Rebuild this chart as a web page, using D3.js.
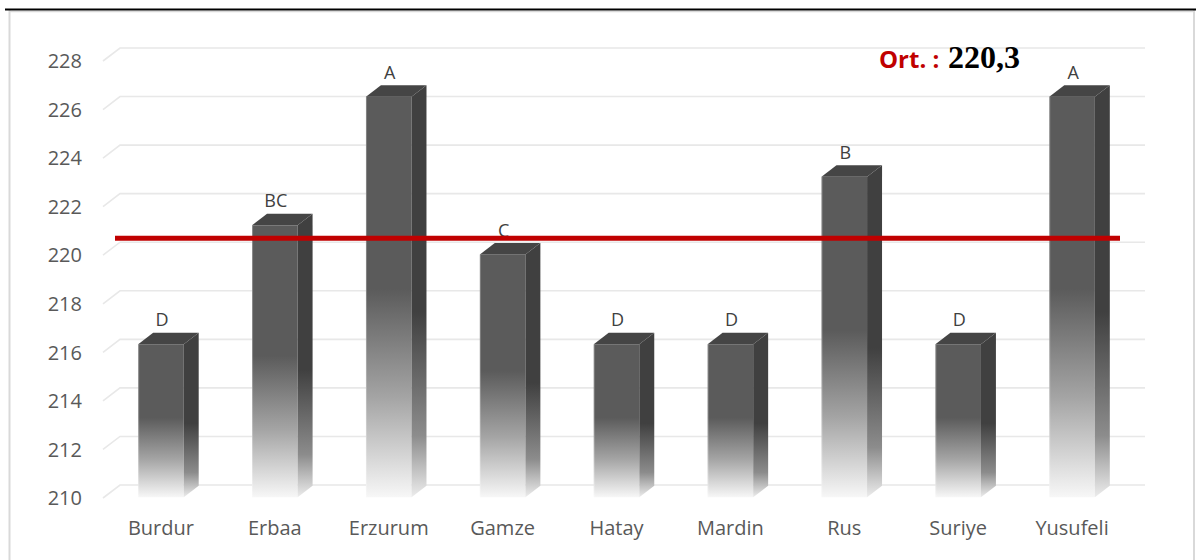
<!DOCTYPE html>
<html>
<head>
<meta charset="utf-8">
<script src="https://cdn.jsdelivr.net/npm/d3@7"></script>
<style>
  html, body { margin: 0; padding: 0; background: #ffffff; }
  svg { display: block; }
</style>
</head>
<body>
<svg id="chart" width="1198" height="560"></svg>
<script>
// Mean values per location, with significance groups
const categories = ["Burdur", "Erbaa", "Erzurum", "Gamze", "Hatay", "Mardin", "Rus", "Suriye", "Yusufeli"];
const values = [216.3, 221.2, 226.5, 220.0, 216.3, 216.3, 223.2, 216.3, 226.5];
const groups = ["D", "BC", "A", "C", "D", "D", "B", "D", "A"];
const yTicks = [210, 212, 214, 216, 218, 220, 222, 224, 226, 228];
const meanValue = 220.3;
const meanLabel = "220,3";

const svg = d3.select("#chart");
const W = 1198, H = 560;

// Frame
svg.append("line").attr("x1", 9.5).attr("x2", 9.5).attr("y1", 10).attr("y2", H)
  .attr("stroke", "#d9d9d9").attr("stroke-width", 2);
svg.append("line").attr("x1", 1194).attr("x2", 1194).attr("y1", 10).attr("y2", H)
  .attr("stroke", "#d9d9d9").attr("stroke-width", 2);
svg.append("line").attr("x1", 9).attr("x2", 1194).attr("y1", 11.5).attr("y2", 11.5)
  .attr("stroke", "#d9d9d9").attr("stroke-width", 1.5);
svg.append("line").attr("x1", 5).attr("x2", 1196).attr("y1", 9.5).attr("y2", 9.5)
  .attr("stroke", "#000000").attr("stroke-width", 2.2);

// Front plane scales and depth projection
const x = d3.scaleBand().domain(categories).range([103, 1128]).paddingInner(0.6).paddingOuter(0.3);
const y = d3.scaleLinear().domain([210, 228]).range([498, 61]);
const depthX = d3.scaleLinear().domain([0, 1]).range([0, 17]);
const depthY = d3.scaleLinear().domain([0, 1]).range([0, -13]);
const backRight = 1145;

const defs = svg.append("defs");
const gFront = defs.append("linearGradient").attr("id", "gFront")
  .attr("x1", 0).attr("y1", 0).attr("x2", 0).attr("y2", 1);
[[0, "#5b5b5b"], [0.48, "#5b5b5b"], [0.75, "#a4a4a4"], [1, "#f7f7f7"]].forEach(([o, c]) =>
  gFront.append("stop").attr("offset", o).attr("stop-color", c));
const gSide = defs.append("linearGradient").attr("id", "gSide")
  .attr("x1", 0).attr("y1", 0).attr("x2", 0).attr("y2", 1);
[[0, "#404040"], [0.55, "#404040"], [0.85, "#8c8c8c"], [1, "#ececec"]].forEach(([o, c]) =>
  gSide.append("stop").attr("offset", o).attr("stop-color", c));

// Gridlines: side wall diagonal then back wall
svg.append("g").selectAll("path").data(yTicks).join("path")
  .attr("d", t => `M${103},${y(t)} L${103 + depthX(1)},${y(t) + depthY(1)} L${backRight},${y(t) + depthY(1)}`)
  .attr("fill", "none").attr("stroke", "#e8e8e8").attr("stroke-width", 1.6);

// Tick labels
svg.append("g").selectAll("text").data(yTicks).join("text")
  .attr("x", 82).attr("y", t => y(t)).attr("dy", "0.36em")
  .attr("text-anchor", "end")
  .attr("font-family", "'Open Sans', sans-serif").attr("font-size", 20)
  .attr("fill", "#595959").text(t => t);

// Bars (front face, side face, top face)
const d0 = 0.06, d1 = 0.94;
const bars = svg.append("g").selectAll("g").data(categories.map((c, i) => ({ c, v: values[i], g: groups[i] })))
  .join("g");
bars.each(function (d) {
  const g = d3.select(this);
  const x0 = x(d.c) + depthX(d0), x1 = x0 + x.bandwidth();
  const yT = y(d.v) + depthY(d0), yB = y(210) + depthY(d0);
  const ddx = depthX(d1) - depthX(d0), ddy = depthY(d1) - depthY(d0);
  g.append("rect").attr("x", x0).attr("y", yT).attr("width", x1 - x0).attr("height", yB - yT)
    .attr("fill", "url(#gFront)");
  g.append("line").attr("x1", x0 + 0.5).attr("x2", x0 + 0.5).attr("y1", yT).attr("y2", yB)
    .attr("stroke", "#ffffff").attr("stroke-opacity", 0.25).attr("stroke-width", 1);
  g.append("path")
    .attr("d", `M${x1},${yT} L${x1 + ddx},${yT + ddy} L${x1 + ddx},${yB + ddy} L${x1},${yB} Z`)
    .attr("fill", "url(#gSide)");
  g.append("path")
    .attr("d", `M${x0},${yT} L${x0 + ddx},${yT + ddy} L${x1 + ddx},${yT + ddy} L${x1},${yT} Z`)
    .attr("fill", "#454545");
  g.append("text").attr("x", (x0 + x1) / 2 + 1).attr("y", yT + ddy - 6.5)
    .attr("text-anchor", "middle")
    .attr("font-family", "'Open Sans', sans-serif").attr("font-size", 18)
    .attr("fill", "#404040").text(d.g);
});

// Category labels
svg.append("g").selectAll("text").data(categories).join("text")
  .attr("x", c => x(c) + x.bandwidth() / 2 + 1).attr("y", 535)
  .attr("text-anchor", "middle")
  .attr("font-family", "'Open Sans', sans-serif").attr("font-size", 20)
  .attr("fill", "#595959").text(c => c);

// Mean line
const meanY = y(meanValue) + depthY(0.75);
svg.append("line").attr("x1", 115).attr("x2", 1120).attr("y1", meanY).attr("y2", meanY)
  .attr("stroke", "#c00000").attr("stroke-width", 5);

// Mean label
svg.append("text").attr("x", 879).attr("y", 68)
  .attr("font-family", "'Open Sans', sans-serif").attr("font-weight", "bold")
  .attr("font-size", 24).attr("fill", "#c00000").text("Ort. :");
svg.append("text").attr("x", 948).attr("y", 68)
  .attr("font-family", "'Liberation Serif', 'Times New Roman', serif").attr("font-weight", "bold")
  .attr("font-size", 32).attr("fill", "#000000").text(meanLabel);
</script>
</body>
</html>
